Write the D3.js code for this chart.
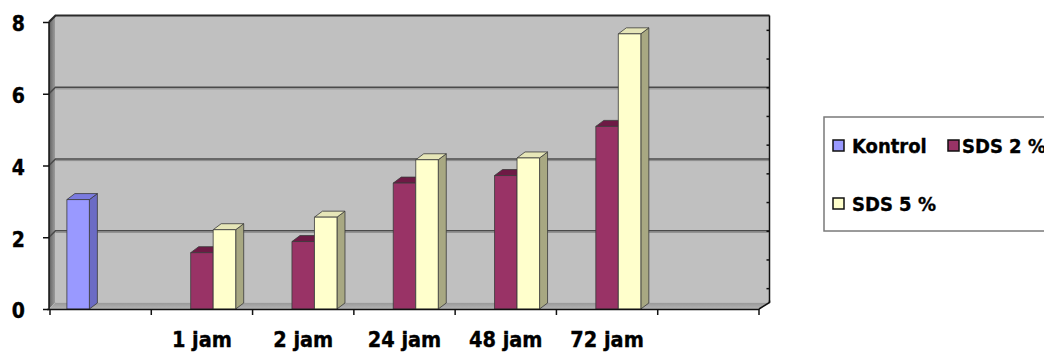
<!DOCTYPE html>
<html>
<head>
<meta charset="utf-8">
<script src="https://cdn.jsdelivr.net/npm/d3@7"></script>
<style>
  body { margin: 0; background: #fff; }
  svg { display: block; }
  .lbl { font-family: "DejaVu Sans Condensed", "DejaVu Sans", sans-serif; font-stretch: condensed; font-weight: bold; stroke: #000; stroke-width: 0.35px; }
</style>
</head>
<body>
<svg id="chart" width="1044" height="352"></svg>
<script>
// Categories along the x axis (first and last slots carry no label)
const categories = ["", "1 jam", "2 jam", "24 jam", "48 jam", "72 jam", ""];
const seriesNames = ["Kontrol", "SDS 2 %", "SDS 5 %"];
const kontrol = [3.05, null, null, null, null, null, null];
const sds2 = [null, 1.57, 1.88, 3.51, 3.72, 5.09, null];
const sds5 = [null, 2.21, 2.56, 4.16, 4.21, 7.67, null];
const yTicks = [0, 2, 4, 6, 8];

const frontColors = ["#9999ff", "#993366", "#ffffcc"];
const topColors = ["#7b7be0", "#6e1a45", "#e6e6b8"];
const sideColors = ["#6b6bc4", "#6e1a45", "#a8a882"];

const seriesValues = [kontrol, sds2, sds5];

const svg = d3.select("#chart");

const x = d3.scaleBand().domain(d3.range(categories.length)).range([50, 759]).padding(0);
const xs = d3.scaleBand().domain(seriesNames).range([0, x.bandwidth()])
  .paddingInner(0).paddingOuter(0.75);
const y = d3.scaleLinear().domain([0, 8]).range([309, 22]);

// wall depth (slightly wider toward the right, like a perspective view)
const wdx = px => 6.5 + 4 * (px - 50) / 709;
const wdy = -6.5;
const xL = 49, xR = 759;
const bx = px => px + wdx(px);

const defs = svg.append("defs");
const lw = defs.append("linearGradient").attr("id", "leftWall").attr("x1", 0).attr("x2", 1).attr("y1", 0).attr("y2", 0);
lw.append("stop").attr("offset", "0%").attr("stop-color", "#5a5a5a");
lw.append("stop").attr("offset", "35%").attr("stop-color", "#777");
lw.append("stop").attr("offset", "100%").attr("stop-color", "#a0a0a0");
const fl = defs.append("linearGradient").attr("id", "floor").attr("x1", 0).attr("x2", 0).attr("y1", 0).attr("y2", 1);
fl.append("stop").attr("offset", "0%").attr("stop-color", "#979797");
fl.append("stop").attr("offset", "100%").attr("stop-color", "#b4b4b4");

const line = d3.line();

// back wall
svg.append("path")
  .attr("d", line([[bx(xL), y(8) + wdy], [bx(xR), y(8) + wdy], [bx(xR), y(0) + wdy], [bx(xL), y(0) + wdy]]) + "Z")
  .attr("fill", "#c0c0c0");

// left side wall
svg.append("path")
  .attr("d", line([[xL, y(8)], [bx(xL), y(8) + wdy], [bx(xL), y(0) + wdy], [xL, y(0)]]) + "Z")
  .attr("fill", "url(#leftWall)");

// floor
svg.append("path")
  .attr("d", line([[xL, y(0)], [xR, y(0)], [bx(xR), y(0) + wdy], [bx(xL), y(0) + wdy]]) + "Z")
  .attr("fill", "url(#floor)");

// gridlines on the back wall and the side wall
const grid = svg.append("g");
yTicks.filter(v => v > 0 && v < 8).forEach(v => {
  grid.append("path")
    .attr("d", line([[xL, y(v)], [bx(xL), y(v) + wdy], [bx(xR), y(v) + wdy]]))
    .attr("fill", "none").attr("stroke", "#4a4a4a").attr("stroke-width", 1.6);
  grid.append("path")
    .attr("d", line([[bx(xL), y(v) + wdy + 1.6], [bx(xR), y(v) + wdy + 1.6]]))
    .attr("fill", "none").attr("stroke", "#8a8a8a").attr("stroke-width", 1);
});

// top edge of the walls
svg.append("path")
  .attr("d", line([[xL, y(8)], [bx(xL), y(8) + wdy], [bx(xR), y(8) + wdy]]))
  .attr("fill", "none").attr("stroke", "#2a2a2a").attr("stroke-width", 2.2);

// right edge of the back wall with small minor marks
const yBack = d3.scaleLinear().domain([0, 8]).range([y(0) + wdy, y(8) + wdy]);
const rightAxis = svg.append("g")
  .attr("transform", `translate(${bx(xR)},0)`)
  .call(d3.axisLeft(yBack).tickValues(d3.range(0.4, 8, 0.8)).tickSize(3).tickFormat(""));
rightAxis.selectAll("path,line").attr("stroke", "#111").attr("stroke-width", 1.5);
rightAxis.select(".domain").attr("d", `M0,${y(8) + wdy}V${y(0) + wdy}`);

// floor right edge
svg.append("path")
  .attr("d", line([[xR, y(0)], [bx(xR), y(0) + wdy], [bx(xR), y(0) + wdy - 2]]))
  .attr("fill", "none").attr("stroke", "#111").attr("stroke-width", 1.5);

// 3D bars
const bdx = 8, bdy = -6;
const bars = svg.append("g");
categories.forEach((c, i) => {
  seriesNames.forEach((s, k) => {
    const v = seriesValues[k][i];
    if (v == null) return;
    const x0 = x(i) + xs(s), w = xs.bandwidth();
    const yt = y(v), yb = y(0);
    const g = bars.append("g").attr("stroke", "#3a3a3a").attr("stroke-width", 0.8).attr("stroke-linejoin", "round");
    g.append("path")
      .attr("d", line([[x0 + w, yt], [x0 + w + bdx, yt + bdy], [x0 + w + bdx, yb + bdy], [x0 + w, yb]]) + "Z")
      .attr("fill", sideColors[k]);
    g.append("path")
      .attr("d", line([[x0, yt], [x0 + bdx, yt + bdy], [x0 + w + bdx, yt + bdy], [x0 + w, yt]]) + "Z")
      .attr("fill", topColors[k]);
    g.append("rect")
      .attr("x", x0).attr("y", yt).attr("width", w).attr("height", yb - yt)
      .attr("fill", frontColors[k]);
  });
});

// y axis
const yAxis = svg.append("g")
  .attr("transform", `translate(${xL},0)`)
  .call(d3.axisLeft(y).tickValues(yTicks).tickSize(6).tickPadding(18));
yAxis.select(".domain").attr("stroke", "#111").attr("stroke-width", 1.5).attr("d", `M0,${y(8)}V${y(0)}`);
yAxis.selectAll(".tick line").attr("stroke", "#111").attr("stroke-width", 1.5);
yAxis.selectAll(".tick text")
  .attr("class", "lbl")
  .attr("font-family", null)
  .attr("font-size", 21)
  .attr("fill", "#000").attr("dy", "0.42em");

// x axis
const xAxis = svg.append("g");
xAxis.append("path")
  .attr("d", `M${xL - 2},${y(0) + 0.5}H${xR}`)
  .attr("stroke", "#111").attr("stroke-width", 1.6);
d3.range(categories.length + 1).forEach(i => {
  const px = x.range()[0] + i * x.step();
  xAxis.append("line")
    .attr("x1", px).attr("x2", px).attr("y1", y(0)).attr("y2", y(0) + 6)
    .attr("stroke", "#111").attr("stroke-width", 1.5);
});
xAxis.selectAll("text.cat")
  .data(categories)
  .join("text")
  .attr("class", "cat lbl")
  .attr("x", (d, i) => x(i) + x.bandwidth() / 2)
  .attr("y", 347)
  .attr("text-anchor", "middle")
  .attr("font-size", 21.5)
  .attr("fill", "#000")
  .text(d => d);

// legend
const legend = svg.append("g");
legend.append("rect")
  .attr("x", 824).attr("y", 117).attr("width", 240).attr("height", 114)
  .attr("fill", "#fff").attr("stroke", "#7a7a7a").attr("stroke-width", 1.5);
const legendItems = [
  { sx: 833, sy: 140, tx: 852, ty: 153 },
  { sx: 948, sy: 140, tx: 962, ty: 153 },
  { sx: 833, sy: 198, tx: 852, ty: 211 }
];
seriesNames.forEach((s, k) => {
  const p = legendItems[k];
  legend.append("rect")
    .attr("x", p.sx).attr("y", p.sy).attr("width", 11).attr("height", 11)
    .attr("fill", frontColors[k]).attr("stroke", "#111").attr("stroke-width", 1.5);
  legend.append("text")
    .attr("class", "lbl")
    .attr("x", p.tx).attr("y", p.ty)
    .attr("font-size", 20)
    .attr("fill", "#000")
    .text(s);
});
</script>
</body>
</html>
